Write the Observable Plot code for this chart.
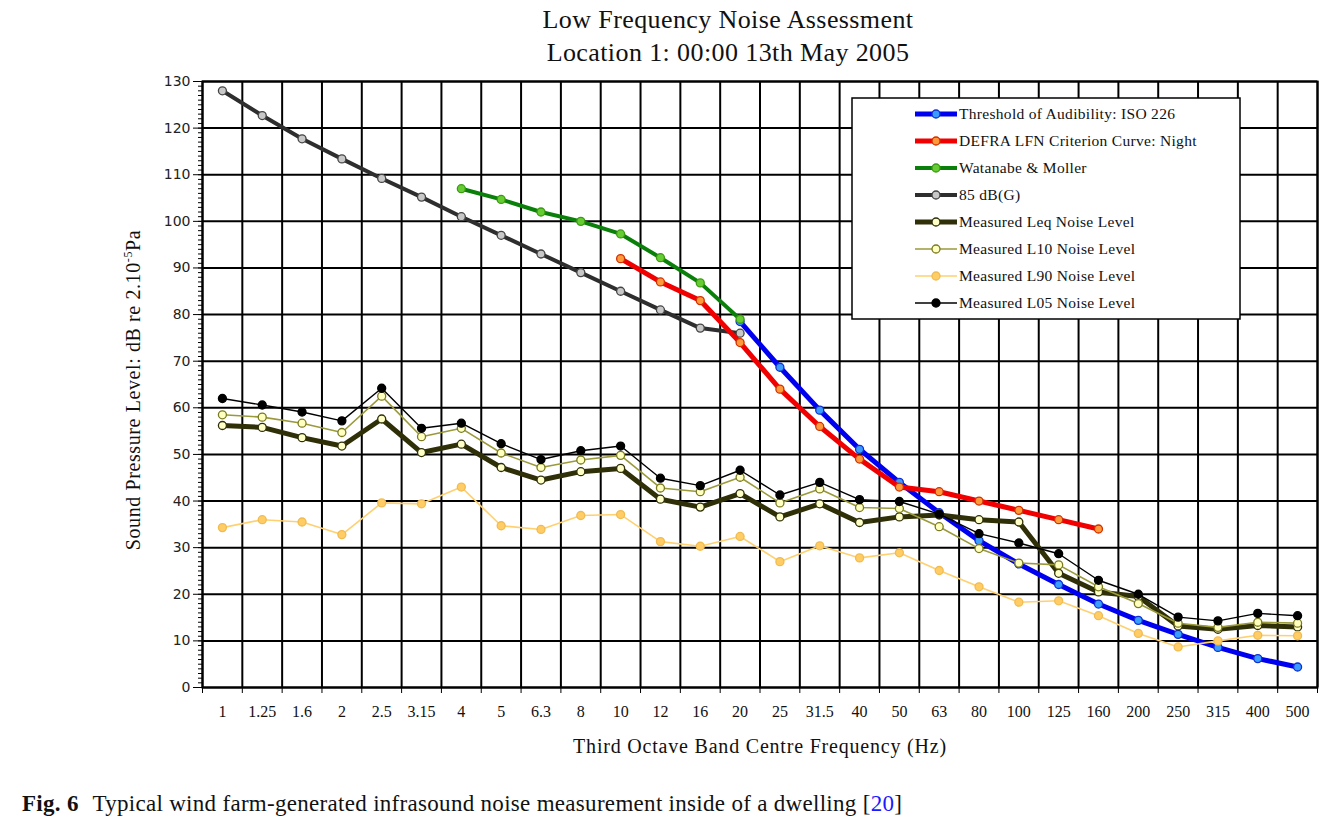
<!DOCTYPE html>
<html>
<head>
<meta charset="utf-8">
<script src="https://cdn.jsdelivr.net/npm/d3@7"></script>
<script src="https://cdn.jsdelivr.net/npm/@observablehq/plot@0.6"></script>
<style>
  html, body { margin: 0; padding: 0; background: #fff; }
  body { width: 1335px; height: 837px; position: relative; overflow: hidden; font-family: "Liberation Serif", serif; color: #111; }
  #title { position: absolute; left: 428px; top: 3px; width: 600px; text-align: center; font-size: 26px; line-height: 33px; letter-spacing: 0.4px; }
  #chart { position: absolute; left: 0; top: 70px; }
  #ytitle { position: absolute; left: 133px; top: 390px; transform: translate(-50%, -50%) rotate(-90deg); white-space: nowrap; font-size: 20px; letter-spacing: 0.6px; }
  #ytitle sup { font-size: 12px; }
  #xtitle { position: absolute; left: 460px; width: 600px; top: 735px; text-align: center; font-size: 20px; letter-spacing: 0.8px; }
  #legend { position: absolute; left: 851px; top: 97px; }
  #caption { position: absolute; left: 22px; top: 791px; font-size: 23px; white-space: nowrap; letter-spacing: 0.3px; }
  #caption b { margin-right: 8px; }
  #caption .ref { color: #1a1aff; }
</style>
</head>
<body>
<div id="title">Low Frequency Noise Assessment<br>Location 1: 00:00 13th May 2005</div>
<div id="chart"></div>
<div id="ytitle">Sound Pressure Level: dB re 2.10<sup>-5</sup>Pa</div>
<div id="xtitle">Third Octave Band Centre Frequency (Hz)</div>
<div id="legend"></div>
<div id="caption"><b>Fig. 6</b> Typical wind farm-generated infrasound noise measurement inside of a dwelling [<span class="ref">20</span>]</div>
<script>
// ---- Data ----
const freqs = ["1","1.25","1.6","2","2.5","3.15","4","5","6.3","8","10","12","16","20","25","31.5","40","50","63","80","100","125","160","200","250","315","400","500"];
const yTicks = [0,10,20,30,40,50,60,70,80,90,100,110,120,130];

const isoStart = "20";
const isoValues = [78.5,68.7,59.5,51.1,44.0,37.5,31.5,26.5,22.1,17.9,14.4,11.4,8.6,6.2,4.4];

const defraStart = "10";
const defraValues = [92,87,83,74,64,56,49,43,42,40,38,36,34];

const watanabeStart = "4";
const watanabeValues = [107,104.7,102,100,97.3,92.2,86.8,79];

const g85Start = "1";
const g85Values = [128,122.7,117.7,113.4,109.2,105.2,101,97,93,89,85,81,77.1,76];

const leqValues = [56.2,55.8,53.6,51.8,57.6,50.4,52.2,47.2,44.5,46.3,47.0,40.4,38.7,41.6,36.6,39.4,35.4,36.6,37.0,36.0,35.5,24.5,20.5,19.5,13.2,12.5,13.3,13.0];
const l10Values = [58.5,58.0,56.7,54.7,62.5,53.8,55.6,50.3,47.2,48.8,49.8,42.8,42.0,45.1,39.6,42.6,38.6,38.4,34.5,29.8,26.7,26.3,21.6,18.0,13.8,12.9,14.0,13.8];
const l90Values = [34.3,36.0,35.5,32.8,39.6,39.4,43.0,34.7,33.9,36.9,37.1,31.3,30.3,32.4,27.0,30.4,27.8,28.9,25.1,21.6,18.3,18.6,15.4,11.6,8.7,10.0,11.2,11.1];
const l05Values = [62.0,60.6,59.1,57.2,64.2,55.6,56.7,52.3,48.9,50.8,51.8,44.9,43.3,46.6,41.3,44.0,40.3,39.9,37.2,33.0,31.0,28.7,23.0,20.0,15.1,14.3,15.9,15.4];

// ---- Series configuration (legend order) ----
const series = [
  {name: "Threshold of Audibility: ISO 226", start: isoStart, values: isoValues, stroke: "#0000f0", sw: 5, fill: "#3b9cff", ms: "#1030d0"},
  {name: "DEFRA LFN Criterion Curve: Night", start: defraStart, values: defraValues, stroke: "#f00000", sw: 5, fill: "#ff9a3c", ms: "#d03000"},
  {name: "Watanabe & Moller", start: watanabeStart, values: watanabeValues, stroke: "#0a7f0a", sw: 4, fill: "#66cc33", ms: "#3a9a10"},
  {name: "85 dB(G)", start: g85Start, values: g85Values, stroke: "#2e2e2e", sw: 4, fill: "#c8c8c8", ms: "#444"},
  {name: "Measured Leq Noise Level", start: "1", values: leqValues, stroke: "#2f2f08", sw: 5, fill: "#ffffc8", ms: "#2f2f08"},
  {name: "Measured L10 Noise Level", start: "1", values: l10Values, stroke: "#9a9a3a", sw: 1.6, fill: "#ffffc0", ms: "#7a7a20"},
  {name: "Measured L90 Noise Level", start: "1", values: l90Values, stroke: "#ffd070", sw: 1.6, fill: "#ffcc66", ms: "#f0bc50"},
  {name: "Measured L05 Noise Level", start: "1", values: l05Values, stroke: "#000000", sw: 1.4, fill: "#000000", ms: "#000000"}
];
const drawOrder = [3, 0, 1, 2, 4, 5, 6, 7];

const rows = series.flatMap(s => s.values.map((v, k) => ({name: s.name, i: freqs.indexOf(s.start) + k, v})));
const idx = d3.range(freqs.length);
const bounds = d3.range(freqs.length + 1).map(i => i - 0.5);

const marks = [
  Plot.ruleY(yTicks, {stroke: "#000", strokeWidth: 2}),
  Plot.ruleX(bounds, {stroke: "#000", strokeWidth: 2}),
  Plot.axisY({ticks: d3.range(0, 131, 1), tickSize: 4, text: null, stroke: "#000", label: null}),
  Plot.axisY({ticks: yTicks, tickSize: 9, tickPadding: 3, stroke: "#000", label: null,
              fontSize: 14, fontFamily: "DejaVu Sans", fill: "#222"}),
  Plot.axisX({ticks: bounds, tickSize: 6, text: null, stroke: "#000", label: null}),
  Plot.axisX({ticks: idx, tickSize: 0, tickPadding: 18, tickFormat: i => freqs[i], label: null,
              fontSize: 16, fontFamily: "Liberation Serif", fill: "#111"})
];
for (const j of drawOrder) {
  const s = series[j];
  const d = rows.filter(r => r.name === s.name);
  marks.push(Plot.line(d, {x: "i", y: "v", stroke: s.stroke, strokeWidth: s.sw, strokeLinejoin: "round"}));
  marks.push(Plot.dot(d, {x: "i", y: "v", r: 4, fill: s.fill, stroke: s.ms, strokeWidth: 1.3}));
}
marks.push(Plot.frame({stroke: "#000", strokeWidth: 2}));

const chart = Plot.plot({
  width: 1335,
  height: 700,
  marginLeft: 202,
  marginRight: 18,
  marginTop: 11,
  marginBottom: 83,
  style: {background: "transparent", color: "#000", overflow: "visible"},
  x: {type: "linear", domain: [-0.5, freqs.length - 0.5], axis: null},
  y: {domain: [0, 130], axis: null},
  marks
});
document.getElementById("chart").appendChild(chart);

// ---- Legend ----
const lg = d3.select("#legend").append("svg").attr("width", 392).attr("height", 224);
lg.append("rect").attr("x", 1).attr("y", 1).attr("width", 388).attr("height", 221)
  .attr("fill", "#fff").attr("stroke", "#000").attr("stroke-width", 1.5);
series.forEach((s, k) => {
  const y = 17 + k * 27;
  const g = lg.append("g").attr("transform", `translate(0,${y})`);
  g.append("line").attr("x1", 64).attr("x2", 106).attr("y1", 0).attr("y2", 0)
    .attr("stroke", s.stroke).attr("stroke-width", s.sw);
  g.append("circle").attr("cx", 85).attr("cy", 0).attr("r", 4)
    .attr("fill", s.fill).attr("stroke", s.ms).attr("stroke-width", 1.3);
  g.append("text").attr("x", 108).attr("y", 0).attr("dy", "0.35em")
    .attr("font-family", "Liberation Serif").attr("font-size", 15.5).attr("fill", "#111")
    .attr("letter-spacing", 0.3)
    .text(s.name);
});
</script>
</body>
</html>
